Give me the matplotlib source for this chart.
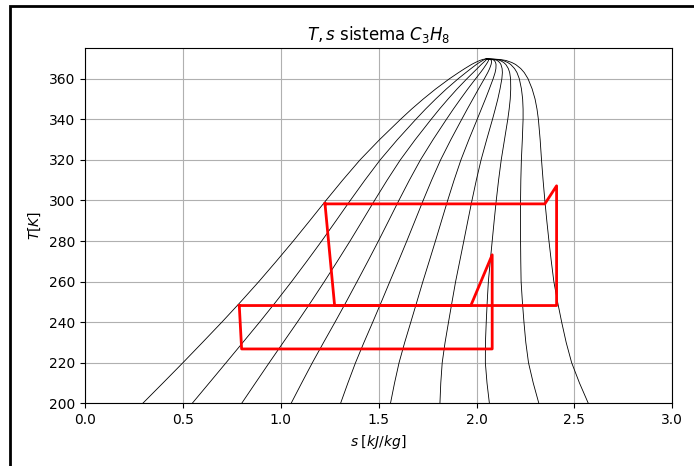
"""Diagramma T-s del propano con ciclo frigorifero in cascata"""

import numpy as np
import matplotlib.pyplot as plt
from matplotlib.patches import Rectangle

# Curva di saturazione: temperatura [K], entropia liquido e vapore saturo [kJ/kgK]
T_sat = [200.0, 210.0, 220.0, 230.0, 240.0, 250.0, 260.0, 270.0, 280.0, 290.0,
         300.0, 310.0, 320.0, 330.0, 340.0, 345.0, 350.0, 355.0, 360.0, 363.0,
         365.0, 367.0, 368.0, 369.0, 369.5, 369.8]
s_liq = [0.295, 0.398, 0.500, 0.600, 0.699, 0.795, 0.888, 0.977, 1.064, 1.148,
         1.231, 1.316, 1.405, 1.505, 1.612, 1.668, 1.728, 1.792, 1.862, 1.908,
         1.940, 1.974, 1.994, 2.017, 2.032, 2.050]
s_vap = [2.571, 2.526, 2.486, 2.458, 2.435, 2.414, 2.395, 2.382, 2.370, 2.359,
         2.349, 2.340, 2.332, 2.325, 2.316, 2.309, 2.299, 2.284, 2.263, 2.244,
         2.226, 2.200, 2.180, 2.150, 2.118, 2.050]

# Titoli di vapore disegnati all'interno della campana
quality = [0.0, 0.111, 0.222, 0.333, 0.444, 0.556, 0.667, 0.778, 0.889, 1.0]

# Ciclo alta temperatura
s_high = [1.226, 1.275, 2.409, 2.409, 2.349, 1.226]
T_high = [298.3, 248.2, 248.2, 307.2, 298.3, 298.3]

# Ciclo bassa temperatura
s_low = [0.788, 0.800, 2.080, 2.080, 1.971, 0.788]
T_low = [248.2, 226.8, 226.8, 273.2, 248.2, 248.2]

sl = np.array(s_liq)
sv = np.array(s_vap)

fig = plt.figure(figsize=(6.94, 4.66), dpi=100)
ax = fig.add_axes([0.1225, 0.1345, 0.8462, 0.7619])

for q in quality:
    ax.plot(sl + q * (sv - sl), T_sat, color='black', lw=0.6)

ax.plot(s_high, T_high, color='red', lw=2)
ax.plot(s_low, T_low, color='red', lw=2)

ax.set_xlim(0.0, 3.0)
ax.set_ylim(200, 375)
ax.set_xticks(np.arange(0.0, 3.01, 0.5))
ax.set_yticks(np.arange(200, 361, 20))
ax.set_xlabel(r'$s\;[kJ/kg]$')
ax.set_ylabel(r'$T[K]$')
ax.set_title(r'$T,s$ sistema $C_3H_8$')
ax.grid(True)

# cornice esterna
fig.add_artist(Rectangle((10 / 694, -0.1), 1.0, (466 - 6) / 466 + 0.1,
                         transform=fig.transFigure, fill=False,
                         ec='black', lw=2, clip_on=False))

fig.savefig('out.png', dpi=100)
